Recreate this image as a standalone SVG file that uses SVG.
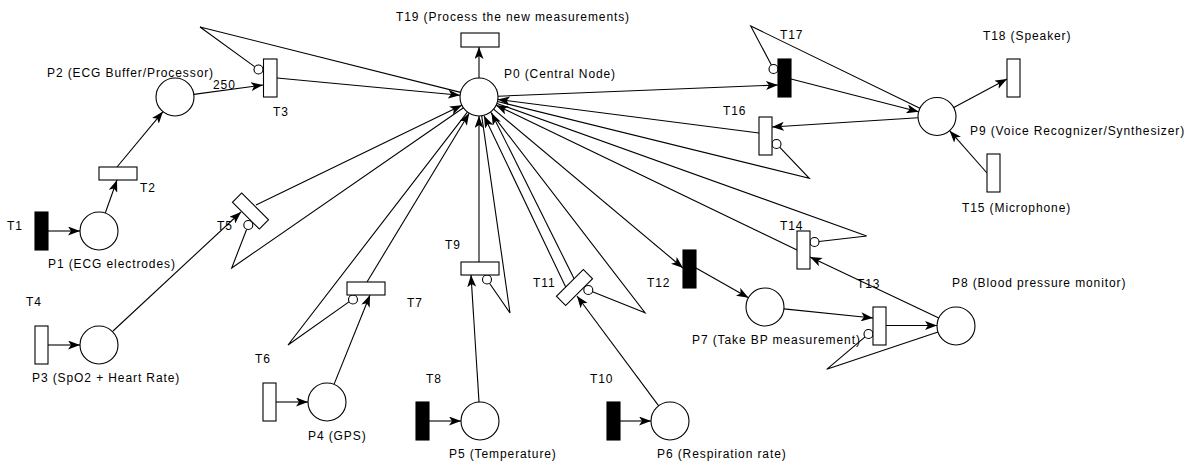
<svg xmlns="http://www.w3.org/2000/svg" width="1185" height="461" viewBox="0 0 1185 461">
<defs>
<style>
.pl{fill:#fff;stroke:#000;stroke-width:1.1}
.tw{fill:#fff;stroke:#000;stroke-width:1.1}
.tb{fill:#000;stroke:#000;stroke-width:1.1}
.lbl{font-family:"Liberation Sans",Arial,sans-serif;font-size:12px;letter-spacing:0.9px;fill:#000}
.arc{fill:none;stroke:#000;stroke-width:1.1}
.a{marker-end:url(#arr)}
.ic{fill:#fff;stroke:#000;stroke-width:1.1}
</style>
<marker id="arr" viewBox="0 0 12 9" refX="12" refY="4.5" markerWidth="12" markerHeight="9" orient="auto" markerUnits="userSpaceOnUse">
<path d="M0,0 L12,4.5 L0,9 L3,4.5 z" fill="#000"/>
</marker>
</defs>
<rect width="1185" height="461" fill="#fff"/>

<g id="connectors">
<!-- ordinary arcs -->
<line class="arc a" x1="48" y1="231" x2="80" y2="231"/>
<line class="arc a" x1="105.3" y1="213" x2="117" y2="180"/>
<line class="arc a" x1="117" y1="167" x2="163" y2="111.6"/>
<line class="arc a" x1="193.8" y1="94.4" x2="263" y2="85"/>
<line class="arc a" x1="277" y1="78" x2="460.1" y2="95.2"/>
<line class="arc a" x1="48" y1="345" x2="80" y2="345"/>
<line class="arc a" x1="113" y1="331" x2="241" y2="212"/>
<line class="arc a" x1="256" y1="205" x2="461.9" y2="105.3"/>
<line class="arc a" x1="276" y1="402" x2="308" y2="402"/>
<line class="arc a" x1="334" y1="384.4" x2="370" y2="295"/>
<line class="arc a" x1="367" y1="282" x2="469.2" y2="113.2"/>
<line class="arc a" x1="429" y1="421" x2="461" y2="421"/>
<line class="arc a" x1="479" y1="402" x2="471" y2="275"/>
<line class="arc a" x1="479" y1="262" x2="479" y2="116"/>
<line class="arc a" x1="620" y1="421" x2="651" y2="421"/>
<line class="arc a" x1="658.7" y1="405.8" x2="577" y2="296"/>
<line class="arc a" x1="565.7" y1="287.1" x2="484" y2="115.8"/>
<line class="arc a" x1="574.1" y1="278.7" x2="491.5" y2="113"/>
<line class="arc a" x1="493.6" y1="109.2" x2="683" y2="268"/>
<line class="arc a" x1="696" y1="268" x2="748.5" y2="297.7"/>
<line class="arc a" x1="783.9" y1="308.9" x2="873" y2="318"/>
<line class="arc a" x1="886" y1="325.5" x2="937" y2="325.5"/>
<line class="arc a" x1="938.8" y1="317.9" x2="810" y2="257"/>
<line class="arc a" x1="797" y1="250" x2="496.1" y2="105.2"/>
<line class="arc a" x1="918" y1="117.7" x2="772" y2="127"/>
<line class="arc a" x1="759" y1="133" x2="497.8" y2="99.4"/>
<line class="arc a" x1="498" y1="96.2" x2="778" y2="85"/>
<line class="arc a" x1="791" y1="79" x2="918.6" y2="111.8"/>
<line class="arc a" x1="953.8" y1="107.5" x2="1007" y2="79"/>
<line class="arc a" x1="987" y1="173" x2="949.6" y2="130.7"/>
<line class="arc a" x1="479" y1="78" x2="479" y2="47"/>
<!-- inhibitor arcs -->
<polyline class="arc" points="460.6,92.4 200,27 254.9,66.9"/>
<circle class="ic" cx="258.5" cy="69.5" r="4.5"/>
<polyline class="arc" points="463.4,107.8 231.7,268 246.7,229.2"/>
<circle class="ic" cx="248.3" cy="225" r="4.5"/>
<polyline class="arc" points="467.4,112.1 288,345 349.3,301.6"/>
<circle class="ic" cx="353" cy="299.5" r="4.5"/>
<polyline class="arc" points="481.7,115.8 510,313 489.5,283.2"/>
<circle class="ic" cx="487" cy="279.5" r="4.5"/>
<polyline class="arc" points="490.6,112.1 645,312.7 592.5,291.7"/>
<circle class="ic" cx="588.3" cy="290" r="4.5"/>
<polyline class="arc" points="938,332 826.7,369.3 865.1,336.9"/>
<circle class="ic" cx="868.5" cy="334" r="4.5"/>
<polyline class="arc" points="496.9,103.4 866.7,236 819,241.5"/>
<circle class="ic" cx="814.5" cy="242" r="4.5"/>
<polyline class="arc" points="497.4,101.5 809.3,178.3 779.6,147.2"/>
<circle class="ic" cx="776.5" cy="144" r="4.5"/>
<polyline class="arc" points="919.9,108.2 750.7,26 771.4,65"/>
<circle class="ic" cx="773.5" cy="69" r="4.5"/>
<text class="lbl" x="213" y="89">250</text>
</g>

<g id="P0"><circle class="pl" cx="479" cy="97" r="19"/><text class="lbl" x="504" y="78">P0 (Central Node)</text></g>
<g id="P1"><circle class="pl" cx="99" cy="231" r="19"/><text class="lbl" x="48" y="268">P1 (ECG electrodes)</text></g>
<g id="P2"><circle class="pl" cx="175" cy="97" r="19"/><text class="lbl" x="47" y="77">P2 (ECG Buffer/Processor)</text></g>
<g id="P3"><circle class="pl" cx="99" cy="345" r="19"/><text class="lbl" x="32" y="382">P3 (SpO2 + Heart Rate)</text></g>
<g id="P4"><circle class="pl" cx="327" cy="402" r="19"/><text class="lbl" x="308" y="440">P4 (GPS)</text></g>
<g id="P5"><circle class="pl" cx="480" cy="421" r="19"/><text class="lbl" x="449" y="458">P5 (Temperature)</text></g>
<g id="P6"><circle class="pl" cx="670" cy="421" r="19"/><text class="lbl" x="657" y="458">P6 (Respiration rate)</text></g>
<g id="P7"><circle class="pl" cx="765" cy="307" r="19"/><text class="lbl" x="692" y="344">P7 (Take BP measurement)</text></g>
<g id="P8"><circle class="pl" cx="956" cy="326" r="19"/><text class="lbl" x="952" y="287">P8 (Blood pressure monitor)</text></g>
<g id="P9"><circle class="pl" cx="937" cy="116.5" r="19"/><text class="lbl" x="970" y="135">P9 (Voice Recognizer/Synthesizer)</text></g>

<g id="T1"><rect class="tb" x="35" y="212" width="13" height="38"/><text class="lbl" x="7" y="230">T1</text></g>
<g id="T2"><rect class="tw" x="99" y="167" width="38" height="13"/><text class="lbl" x="140" y="192">T2</text></g>
<g id="T3"><rect class="tw" x="263.5" y="59" width="13.5" height="38"/><text class="lbl" x="273" y="116">T3</text></g>
<g id="T4"><rect class="tw" x="35" y="326" width="13" height="38"/><text class="lbl" x="26" y="306">T4</text></g>
<g id="T5"><rect class="tw" x="-19" y="-6.5" width="38" height="13" transform="translate(250.5,211) rotate(45)"/><text class="lbl" x="217" y="230">T5</text></g>
<g id="T6"><rect class="tw" x="263" y="383" width="13" height="38"/><text class="lbl" x="255" y="363">T6</text></g>
<g id="T7"><rect class="tw" x="347" y="282" width="38" height="13"/><text class="lbl" x="407" y="307">T7</text></g>
<g id="T8"><rect class="tb" x="416" y="402" width="13" height="38"/><text class="lbl" x="426" y="383">T8</text></g>
<g id="T9"><rect class="tw" x="461" y="262" width="38" height="13"/><text class="lbl" x="445" y="249">T9</text></g>
<g id="T10"><rect class="tb" x="607" y="402" width="13" height="38"/><text class="lbl" x="590" y="383">T10</text></g>
<g id="T11"><rect class="tw" x="-19" y="-6.5" width="38" height="13" transform="translate(574.5,287.5) rotate(-45)"/><text class="lbl" x="533" y="287">T11</text></g>
<g id="T12"><rect class="tb" x="683" y="250" width="13" height="38"/><text class="lbl" x="647" y="287">T12</text></g>
<g id="T13"><rect class="tw" x="873" y="307" width="13" height="38"/><text class="lbl" x="857" y="288">T13</text></g>
<g id="T14"><rect class="tw" x="797" y="231" width="13" height="38"/><text class="lbl" x="780" y="230">T14</text></g>
<g id="T15"><rect class="tw" x="987" y="154" width="13" height="38"/><text class="lbl" x="962" y="212">T15 (Microphone)</text></g>
<g id="T16"><rect class="tw" x="759" y="117" width="13" height="38"/><text class="lbl" x="723" y="115">T16</text></g>
<g id="T17"><rect class="tb" x="778" y="59" width="13" height="38"/><text class="lbl" x="780" y="39">T17</text></g>
<g id="T18"><rect class="tw" x="1007" y="59" width="13" height="38"/><text class="lbl" x="983" y="40">T18 (Speaker)</text></g>
<g id="T19"><rect class="tw" x="461" y="33" width="38" height="14"/><text class="lbl" x="396" y="21">T19 (Process the new measurements)</text></g>
</svg>
